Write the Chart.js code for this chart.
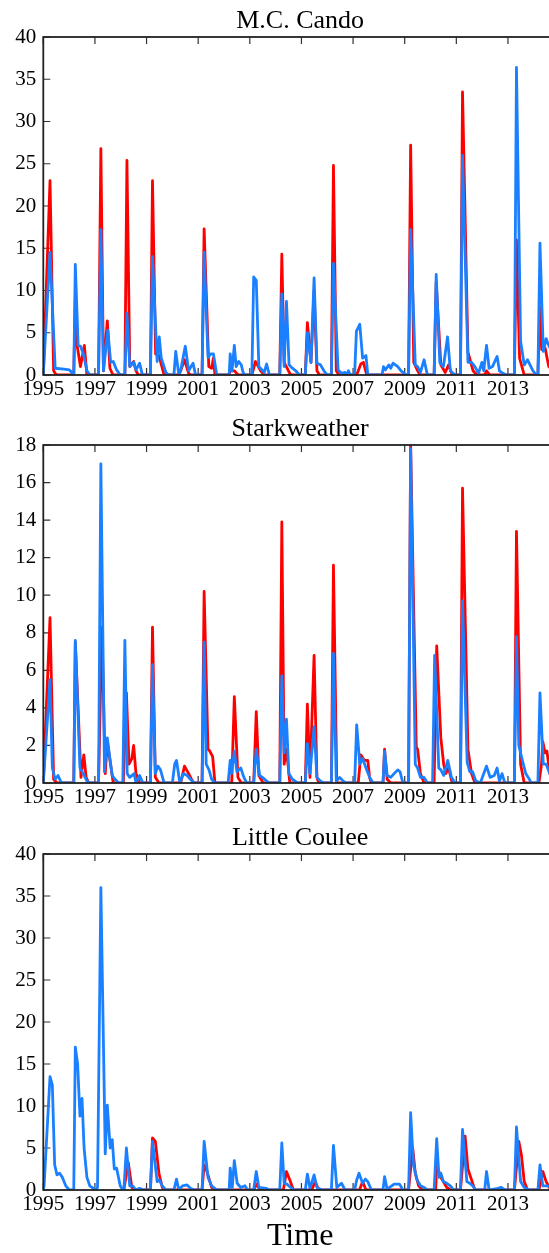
<!DOCTYPE html>
<html>
<head>
<meta charset="utf-8">
<script src="https://cdn.jsdelivr.net/npm/chart.js@4.4.0/dist/chart.umd.min.js"></script>
<style>
  html, body { margin: 0; padding: 0; background: #fff; width: 549px; height: 1253px; overflow: hidden; }
  canvas { position: absolute; left: 0; }
</style>
</head>
<body>
<canvas id="cando" width="600" height="405" style="top:0px"></canvas>
<canvas id="stark" width="600" height="405" style="top:408px"></canvas>
<canvas id="coulee" width="600" height="437" style="top:816px"></canvas>
<script>
"use strict";
const FONT = '"Liberation Serif", "Times New Roman", serif';
const RED = "#ff0000";
const BLUE = "#1a80ff";

// x axis labels (years)
const yearTicks = [1995, 1997, 1999, 2001, 2003, 2005, 2007, 2009, 2011, 2013];

// M.C. Cando  [year, value]
const candoRed = [
  [1995.00,0],[1995.26,23],[1995.40,0.5],[1995.50,0],
  [1996.18,0],[1996.24,9],[1996.31,3.5],[1996.44,1.0],[1996.59,3.5],[1996.69,0],
  [1997.14,0],[1997.23,26.8],[1997.33,0.5],[1997.48,6.4],[1997.58,0.8],[1997.70,0],
  [1998.16,0],[1998.24,25.4],[1998.35,1.0],[1998.50,1.6],[1998.59,0.5],[1998.68,0],
  [1999.15,0],[1999.23,23],[1999.35,2.5],[1999.48,2.3],[1999.68,0],
  [2000.25,0],[2000.32,0.5],[2000.47,1.8],[2000.63,0.2],[2000.70,0],
  [2001.15,0],[2001.23,17.3],[2001.41,1.0],[2001.52,0.8],[2001.59,2.0],[2001.65,0],
  [2002.20,0],[2002.24,0.5],[2002.40,0.5],[2002.55,0],
  [2003.08,0],[2003.22,1.6],[2003.42,0.5],[2003.56,0],
  [2004.16,0],[2004.24,14.3],[2004.33,1.5],[2004.58,0],
  [2005.15,0],[2005.23,6.2],[2005.37,1.5],[2005.49,10],[2005.60,0.5],[2005.70,0],
  [2006.16,0],[2006.24,24.8],[2006.35,0.5],[2006.45,0],
  [2007.14,0],[2007.30,1.3],[2007.40,1.5],[2007.53,0],
  [2009.15,0],[2009.23,27.2],[2009.35,1.5],[2009.50,0.5],[2009.60,0],
  [2010.14,0],[2010.22,11],[2010.40,1.2],[2010.57,0.3],[2010.70,1.2],[2010.84,0],
  [2011.16,0],[2011.24,33.5],[2011.45,2.7],[2011.65,0.5],[2011.79,0],
  [2012.10,0],[2012.17,0.5],[2012.30,0],
  [2013.25,0],[2013.33,16],[2013.45,2],[2013.63,0],
  [2014.16,0],[2014.24,8],[2014.31,3],[2014.44,3.2],[2014.58,1],[2014.75,0.5],[2014.95,0.2]
];
const candoBlue = [
  [1995.00,0],[1995.26,14.5],[1995.46,0.8],[1995.80,0.7],[1996.01,0.6],[1996.08,0.4],[1996.14,0],
  [1996.18,0],[1996.24,13.1],[1996.35,3.5],[1996.44,3.4],[1996.55,2.5],[1996.69,0.5],[1996.80,0],
  [1997.14,0],[1997.23,17.2],[1997.33,0.5],[1997.50,5.3],[1997.61,1.5],[1997.71,1.6],[1997.84,0.6],[1997.98,0],
  [1998.16,0],[1998.24,7.3],[1998.35,1.0],[1998.50,1.5],[1998.59,0.6],[1998.73,1.4],[1998.84,0],
  [1999.15,0],[1999.23,14],[1999.41,1.6],[1999.49,4.5],[1999.57,2.0],[1999.75,0.3],[1999.85,0],
  [2000.06,0],[2000.13,2.8],[2000.25,0],[2000.32,0.5],[2000.50,3.4],[2000.63,0.5],[2000.80,1.4],[2000.90,0],
  [2001.15,0],[2001.23,14.5],[2001.38,2.1],[2001.49,2.5],[2001.59,2.5],[2001.72,0],
  [2002.20,0],[2002.24,2.5],[2002.31,0.5],[2002.40,3.5],[2002.47,1],[2002.57,1.6],[2002.67,1.2],[2002.74,0.3],[2002.81,0],
  [2003.08,0],[2003.15,11.6],[2003.25,11.2],[2003.35,1],[2003.56,0.3],[2003.65,1.3],[2003.76,0],
  [2004.16,0],[2004.24,9.6],[2004.33,1],[2004.42,8.7],[2004.52,1.2],[2004.65,0.8],[2004.78,0.5],[2004.92,0],
  [2005.15,0],[2005.23,5],[2005.37,1.5],[2005.49,11.5],[2005.60,1.4],[2005.74,1.2],[2005.87,0.5],[2006.00,0],
  [2006.16,0],[2006.24,13.2],[2006.42,0.6],[2006.55,0.2],[2006.69,0.3],[2006.75,0],[2006.82,0.5],[2006.90,0],
  [2007.06,0],[2007.13,5.2],[2007.26,6],[2007.37,2],[2007.50,2.3],[2007.57,0],
  [2008.12,0],[2008.18,1],[2008.25,0.6],[2008.39,1.2],[2008.46,0.8],[2008.55,1.4],[2008.73,1],[2008.86,0.5],[2009.07,0],
  [2009.15,0],[2009.23,17.2],[2009.41,1.2],[2009.50,1],[2009.61,0.3],[2009.75,1.8],[2009.88,0],
  [2010.14,0],[2010.22,11.9],[2010.36,1.5],[2010.50,1],[2010.66,4.5],[2010.77,0.5],[2010.95,0],
  [2011.16,0],[2011.24,26],[2011.45,1.5],[2011.59,1.5],[2011.72,1],[2011.86,0.2],[2011.99,1.5],[2012.06,0.5],
  [2012.17,3.5],[2012.27,0.8],[2012.40,1],[2012.58,2.2],[2012.67,0.5],[2012.81,0.2],[2012.95,0],
  [2013.25,0],[2013.33,36.4],[2013.49,4],[2013.63,1.2],[2013.76,1.8],[2013.97,0.5],[2014.10,0],
  [2014.16,0],[2014.24,15.6],[2014.37,2.8],[2014.48,4.3],[2014.58,3.5],[2014.75,2.5],[2014.95,1.5]
];

// Starkweather
const starkRed = [
  [1995.00,0],[1995.26,8.8],[1995.40,0.2],[1995.53,0],
  [1996.18,0],[1996.24,7.5],[1996.46,0.3],[1996.57,1.5],[1996.66,0.3],[1996.76,0],
  [1997.14,0],[1997.27,8.3],[1997.40,0.5],[1997.48,2.2],[1997.71,0],
  [1998.10,0],[1998.22,4.8],[1998.32,1],[1998.43,1.3],[1998.50,2],[1998.59,0.5],[1998.73,0],
  [1999.15,0],[1999.23,8.3],[1999.34,0.3],[1999.48,0],
  [2000.32,0],[2000.47,0.9],[2000.63,0.5],[2000.74,0.2],[2000.84,0],
  [2001.15,0],[2001.23,10.2],[2001.38,1.8],[2001.45,1.7],[2001.56,1.4],[2001.65,0],
  [2002.30,0],[2002.40,4.6],[2002.54,0.3],[2002.67,0],
  [2003.15,0],[2003.25,3.8],[2003.35,0.4],[2003.52,0],
  [2004.16,0],[2004.24,13.9],[2004.33,1],[2004.42,1.8],[2004.55,0],
  [2005.15,0],[2005.23,4.2],[2005.33,0.3],[2005.49,6.8],[2005.60,0.3],[2005.67,0],
  [2006.16,0],[2006.24,11.6],[2006.37,0],
  [2007.20,0],[2007.30,1.5],[2007.44,1.2],[2007.57,1.2],[2007.64,0.3],[2007.71,0],
  [2008.16,0],[2008.22,1.8],[2008.32,0.2],[2008.46,0],
  [2009.15,0],[2009.23,18],[2009.45,1.9],[2009.50,1.8],[2009.61,0.5],[2009.75,0],
  [2010.14,0],[2010.24,7.3],[2010.40,2.4],[2010.51,1],[2010.59,0.5],[2010.70,0.8],[2010.84,0],
  [2011.16,0],[2011.24,15.7],[2011.45,1.8],[2011.59,0.5],[2011.72,0],
  [2013.25,0],[2013.33,13.4],[2013.49,1],[2013.63,0],
  [2014.20,0],[2014.30,1],[2014.35,2.2],[2014.44,1.6],[2014.51,1.7],[2014.62,0.5],[2014.80,0.3],[2014.95,0.2]
];
const starkBlue = [
  [1995.00,0],[1995.26,5.5],[1995.35,0.8],[1995.46,0.2],[1995.57,0.4],[1995.67,0.1],[1995.74,0],
  [1996.18,0],[1996.24,7.6],[1996.42,0.8],[1996.55,0.5],[1996.69,0.1],[1996.82,0],
  [1997.14,0],[1997.23,17],[1997.37,0.6],[1997.48,2.4],[1997.57,1.4],[1997.67,0.4],[1997.78,0.2],[1997.91,0],
  [1998.08,0],[1998.16,7.6],[1998.25,0.5],[1998.35,0.3],[1998.52,0.5],[1998.59,0],[1998.73,0.4],[1998.86,0],
  [1999.15,0],[1999.23,6.3],[1999.34,0.5],[1999.44,0.9],[1999.54,0.7],[1999.68,0],
  [2000.00,0],[2000.09,1],[2000.16,1.2],[2000.29,0],[2000.43,0.5],[2000.57,0.4],[2000.70,0.2],[2000.84,0],
  [2001.15,0],[2001.23,7.5],[2001.31,1],[2001.42,0.7],[2001.52,0.2],[2001.65,0],
  [2002.16,0],[2002.24,1.2],[2002.29,0.5],[2002.40,1.7],[2002.50,0.6],[2002.65,0.8],[2002.77,0.3],[2002.88,0],
  [2003.15,0],[2003.25,1.8],[2003.38,0.4],[2003.49,0.3],[2003.65,0.1],[2003.76,0],
  [2004.16,0],[2004.24,5.7],[2004.33,1.6],[2004.42,3.4],[2004.51,0.5],[2004.65,0.2],[2004.85,0],
  [2005.15,0],[2005.23,2.1],[2005.33,0.5],[2005.49,3],[2005.60,0.3],[2005.74,0.1],[2005.87,0],
  [2006.16,0],[2006.24,6.9],[2006.35,0.1],[2006.48,0.3],[2006.62,0.1],[2006.76,0],
  [2007.06,0],[2007.14,3.1],[2007.26,1],[2007.37,1.3],[2007.50,0.8],[2007.64,0.3],[2007.78,0],
  [2008.16,0],[2008.22,1.7],[2008.32,0.4],[2008.46,0.3],[2008.59,0.5],[2008.73,0.7],[2008.82,0.6],[2008.93,0],
  [2009.15,0],[2009.23,17.8],[2009.41,1],[2009.50,0.8],[2009.61,0.3],[2009.75,0.3],[2009.88,0],
  [2010.08,0],[2010.16,6.8],[2010.32,0.8],[2010.40,0.7],[2010.51,0.4],[2010.67,1.2],[2010.81,0.3],[2010.95,0],
  [2011.16,0],[2011.24,9.7],[2011.42,1.1],[2011.52,0.6],[2011.63,0.6],[2011.76,0.1],[2011.93,0],
  [2012.17,0.9],[2012.31,0.3],[2012.47,0.4],[2012.58,0.8],[2012.67,0.1],[2012.77,0.5],[2012.88,0],
  [2013.25,0],[2013.33,7.8],[2013.42,2],[2013.56,1.2],[2013.69,0.5],[2013.83,0.2],[2013.90,0],
  [2014.16,0],[2014.24,4.8],[2014.37,1],[2014.48,1],[2014.62,0.5],[2014.80,0.3],[2014.95,0.2]
];

// Little Coulee
const couleeRed = [
  [1998.12,0],[1998.29,3.3],[1998.43,0.3],[1998.55,0],
  [1999.15,0],[1999.23,6.2],[1999.34,5.8],[1999.48,2],[1999.61,0.3],[1999.68,0],
  [2001.15,0],[2001.23,3],[2001.31,2.5],[2001.52,0.3],[2001.65,0],
  [2003.15,0],[2003.25,0.7],[2003.40,0],
  [2004.30,0],[2004.42,2.2],[2004.55,1.2],[2004.69,0],
  [2005.40,0],[2005.53,1],[2005.67,0],
  [2007.25,0],[2007.37,1],[2007.50,0],
  [2009.15,0],[2009.31,5],[2009.41,2],[2009.54,0.5],[2009.68,0],
  [2010.20,0],[2010.24,3],[2010.40,1.5],[2010.63,0.3],[2010.77,0],
  [2011.16,0],[2011.34,6.4],[2011.45,2.5],[2011.59,1.2],[2011.72,0],
  [2013.25,0],[2013.42,5.8],[2013.52,4.2],[2013.63,1],[2013.76,0],
  [2014.20,0],[2014.35,2.2],[2014.48,1],[2014.62,0.2],[2014.95,0]
];
const couleeBlue = [
  [1995.00,0],[1995.03,0.5],[1995.26,13.5],[1995.35,12.5],[1995.44,3],[1995.53,1.8],[1995.63,2],[1995.74,1.5],[1995.87,0.5],[1996.01,0],
  [1996.18,0],[1996.24,17],[1996.33,15],[1996.42,8.8],[1996.50,10.9],[1996.58,5],[1996.69,1.5],[1996.80,0.5],[1997.03,0],
  [1997.10,0.3],[1997.23,36],[1997.40,4.3],[1997.48,10.1],[1997.59,5],[1997.67,6],[1997.75,2.5],[1997.84,2.6],[1997.98,0.5],[1998.08,0],
  [1998.12,0],[1998.22,5],[1998.35,0.5],[1998.46,0.5],[1998.59,0],[1998.73,0.2],[1998.86,0],
  [1999.15,0],[1999.23,5.8],[1999.41,1],[1999.49,1.2],[1999.61,0.5],[1999.75,0],
  [2000.06,0],[2000.16,1.3],[2000.25,0],[2000.39,0.5],[2000.57,0.6],[2000.70,0.2],[2000.84,0],
  [2001.15,0],[2001.23,5.8],[2001.38,1.5],[2001.52,0.5],[2001.72,0],
  [2002.20,0],[2002.24,2.6],[2002.32,0.3],[2002.40,3.5],[2002.51,0.8],[2002.65,0.3],[2002.81,0.5],[2002.92,0],
  [2003.15,0],[2003.25,2.2],[2003.35,0.3],[2003.63,0.2],[2003.76,0],
  [2004.16,0],[2004.24,5.6],[2004.33,0.8],[2004.44,0.7],[2004.58,0.3],[2004.71,0],
  [2005.15,0],[2005.23,1.9],[2005.33,0.2],[2005.49,1.8],[2005.60,0.3],[2005.80,0],
  [2006.16,0],[2006.24,5.3],[2006.37,0.3],[2006.55,0.8],[2006.69,0],
  [2007.06,0],[2007.14,1.2],[2007.23,2],[2007.37,0.8],[2007.48,1.3],[2007.57,1],[2007.71,0],
  [2008.16,0],[2008.22,1.6],[2008.32,0.1],[2008.59,0.7],[2008.80,0.7],[2008.93,0],
  [2009.15,0],[2009.23,9.2],[2009.34,3],[2009.48,1.2],[2009.61,0.5],[2009.75,0.3],[2009.88,0],
  [2010.14,0],[2010.24,6.1],[2010.33,1.5],[2010.40,2],[2010.50,1],[2010.63,0.8],[2010.77,0.5],[2010.90,0],
  [2011.16,0],[2011.24,7.2],[2011.41,1],[2011.52,0.8],[2011.63,0.5],[2011.76,0],
  [2012.10,0],[2012.17,2.2],[2012.27,0],[2012.60,0.2],[2012.74,0.3],[2012.88,0],
  [2013.25,0],[2013.33,7.5],[2013.49,1],[2013.63,0.3],[2013.83,0],
  [2014.16,0],[2014.24,3],[2014.35,0.5],[2014.51,0.5],[2014.75,0.3],[2014.95,0.2]
];

// matplotlib-like frame: inward ticks under the lines, spines + title on top
const frame = {
  id: "frame",
  beforeDatasetsDraw(chart) {
    const { ctx, chartArea: a, scales: { x, y } } = chart;
    ctx.save();
    ctx.strokeStyle = "#333";
    ctx.lineWidth = 1.2;
    ctx.beginPath();
    x.ticks.forEach((t) => {
      const px = x.getPixelForValue(t.value);
      ctx.moveTo(px, a.top); ctx.lineTo(px, a.top + 7);
      ctx.moveTo(px, a.bottom); ctx.lineTo(px, a.bottom - 7);
    });
    y.ticks.forEach((t) => {
      const py = y.getPixelForValue(t.value);
      ctx.moveTo(a.left, py); ctx.lineTo(a.left + 7, py);
      ctx.moveTo(a.right, py); ctx.lineTo(a.right - 7, py);
    });
    ctx.stroke();
    ctx.restore();
  },
  afterDatasetsDraw(chart, args, opts) {
    const { ctx, chartArea: a } = chart;
    ctx.save();
    ctx.strokeStyle = "#222";
    ctx.lineWidth = 1.8;
    ctx.strokeRect(a.left, a.top, a.right - a.left, a.bottom - a.top);
    // title centred over the axes, like matplotlib
    ctx.fillStyle = "#000";
    ctx.font = "26px " + FONT;
    ctx.textAlign = "center";
    ctx.textBaseline = "middle";
    ctx.fillText(opts.text, (a.left + a.right) / 2, a.top - 16);
    ctx.restore();
  }
};

function toPoints(arr) {
  return arr.map(([x, y]) => ({ x, y }));
}

function makePanel(id, title, red, blue, yMax, yStep, topPad, withTime) {
  const tickFont = { family: FONT, size: 21, lineHeight: 1 };
  new Chart(document.getElementById(id), {
    type: "line",
    data: {
      datasets: [
        { data: toPoints(blue), borderColor: BLUE, borderWidth: 2.8 },
        { data: toPoints(red), borderColor: RED, borderWidth: 2.8 }
      ]
    },
    options: {
      responsive: false,
      animation: false,
      devicePixelRatio: 1,
      layout: { padding: { left: 0, right: 43, top: topPad, bottom: 0 } },
      elements: {
        point: { radius: 0 },
        line: { tension: 0, borderJoinStyle: "round", borderCapStyle: "round" }
      },
      plugins: {
        legend: { display: false },
        tooltip: { enabled: false },
        title: { display: false },
        frame: { text: title }
      },
      scales: {
        x: {
          type: "linear",
          min: 1995,
          max: 2014.9,
          grid: { display: false, drawTicks: false },
          border: { display: false },
          afterBuildTicks: (s) => { s.ticks = yearTicks.map((v) => ({ value: v })); },
          afterFit: (s) => { s.height = withTime ? 63 : 30; },
          ticks: {
            color: "#000",
            font: tickFont,
            padding: 4,
            maxRotation: 0,
            autoSkip: false,
            callback: (v) => String(v)
          },
          title: withTime ? {
            display: true,
            text: "Time",
            color: "#000",
            font: { family: FONT, size: 32, lineHeight: 1 },
            padding: { top: 0, bottom: 0 }
          } : { display: false }
        },
        y: {
          min: 0,
          max: yMax,
          grid: { display: false, drawTicks: false },
          border: { display: false },
          afterFit: (s) => { s.width = 43.3; },
          ticks: { stepSize: yStep, color: "#000", font: tickFont, padding: 7 }
        }
      }
    },
    plugins: [frame]
  });
}

makePanel("cando", "M.C. Cando", candoRed, candoBlue, 40, 5, 37, false);
makePanel("stark", "Starkweather", starkRed, starkBlue, 18, 2, 37, false);
makePanel("coulee", "Little Coulee", couleeRed, couleeBlue, 40, 5, 38, true);
</script>
</body>
</html>
